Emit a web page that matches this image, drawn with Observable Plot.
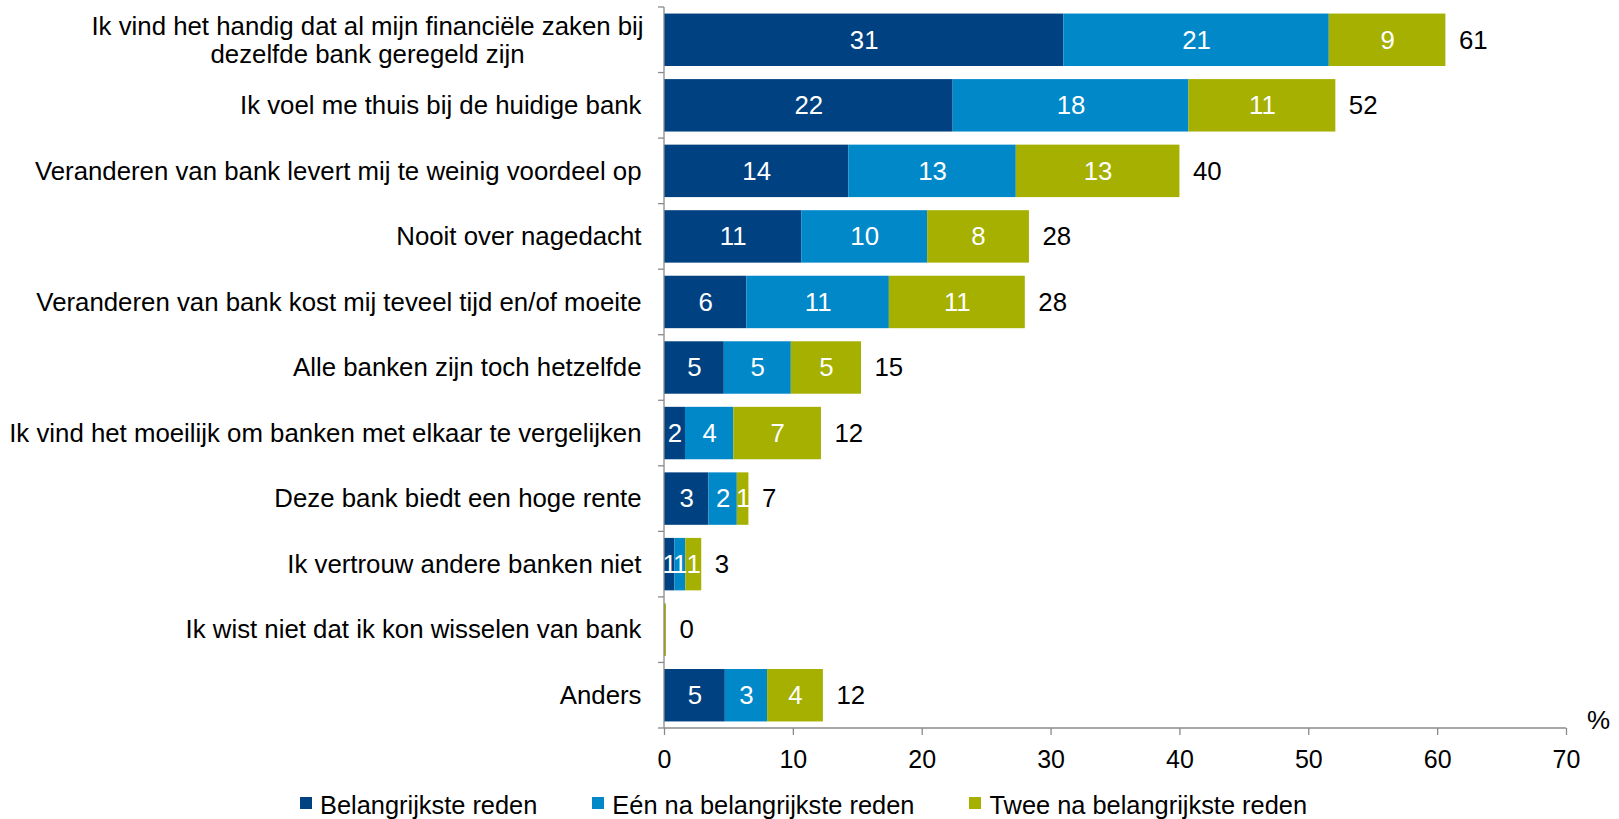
<!DOCTYPE html>
<html>
<head>
<meta charset="utf-8">
<script src="https://cdn.jsdelivr.net/npm/d3@7"></script>
<script src="https://cdn.jsdelivr.net/npm/@observablehq/plot@0.6"></script>
<style>
  html, body { margin: 0; padding: 0; background: #fff; }
  body { width: 1619px; height: 819px; position: relative; overflow: hidden; font-family: "Liberation Sans", Arial, sans-serif; }
  #legend { position: absolute; left: 300px; top: 790px; display: flex; align-items: flex-start; font-size: 25.4px; color: #000; line-height: 30px; }
  #legend .item { display: flex; align-items: flex-start; margin-right: 55px; }
  #legend .sw { width: 12px; height: 12px; margin-top: 7px; margin-right: 8px; }
</style>
</head>
<body>
<div id="chart"></div>
<div id="legend"></div>
<script>
// ---- data ----
const categories = [
  "Ik vind het handig dat al mijn financiële zaken bij\ndezelfde bank geregeld zijn",
  "Ik voel me thuis bij de huidige bank",
  "Veranderen van bank levert mij te weinig voordeel op",
  "Nooit over nagedacht",
  "Veranderen van bank kost mij teveel tijd en/of moeite",
  "Alle banken zijn toch hetzelfde",
  "Ik vind het moeilijk om banken met elkaar te vergelijken",
  "Deze bank biedt een hoge rente",
  "Ik vertrouw andere banken niet",
  "Ik wist niet dat ik kon wisselen van bank",
  "Anders"
];
const seriesNames = ["Belangrijkste reden", "Eén na belangrijkste reden", "Twee na belangrijkste reden"];
const belangrijkste = [30.99, 22.4, 14.3, 10.65, 6.4, 4.64, 1.63, 3.45, 0.8, 0, 4.72];
const eenNa        = [20.6, 18.3, 13.0, 9.77, 11.05, 5.2, 3.75, 2.2, 0.85, 0, 3.28];
const tweeNa       = [9.05, 11.4, 12.7, 7.9, 10.55, 5.45, 6.8, 0.9, 1.24, 0.15, 4.33];
const xTicks = [0, 10, 20, 30, 40, 50, 60, 70];
const unitLabel = "%";

// ---- styles ----
const colors = ["#004181", "#0088c9", "#a5b000"];
const axisGray = "#8a8a8a";
const fontFamily = "'Liberation Sans', Arial, sans-serif";
const labelSize = 25.8;

// ---- table built from arrays ----
const seriesValues = [belangrijkste, eenNa, tweeNa];
const long = [];
seriesNames.forEach((s, si) => {
  categories.forEach((c, ci) => long.push({category: c, series: s, value: seriesValues[si][ci]}));
});
const totals = categories.map((c, ci) => ({category: c, total: belangrijkste[ci] + eenNa[ci] + tweeNa[ci]}));
const twoLine = categories.filter(c => c.includes("\n"));
const oneLine = categories.filter(c => !c.includes("\n"));

// custom axis frame: y axis line with ticks at band boundaries, x axis baseline
function axisFrame(index, scales, values, dimensions) {
  const y = scales.y, x = scales.x;
  const bw = y.bandwidth ? y.bandwidth() : scales.scales.y.bandwidth;
  const step = y.step ? y.step() : scales.scales.y.step;
  const gap = step - bw;
  const x0 = x(xTicks[0]);
  const x1 = x(xTicks[xTicks.length - 1]);
  const bottom = dimensions.height - dimensions.marginBottom;
  const top = y(categories[0]) - gap / 2;
  const g = d3.create("svg:g").attr("stroke", axisGray).attr("stroke-width", 1.3).attr("fill", "none");
  g.append("line").attr("x1", x0).attr("x2", x0).attr("y1", top).attr("y2", bottom);
  g.append("line").attr("x1", x0).attr("x2", x1).attr("y1", bottom).attr("y2", bottom);
  for (let i = 0; i <= categories.length; i++) {
    const yy = top + i * step;
    g.append("line").attr("x1", x0 - 6).attr("x2", x0).attr("y1", yy).attr("y2", yy);
  }
  return g.node();
}

const chart = Plot.plot({
  width: 1619,
  height: 780,
  marginLeft: 664,
  marginRight: 53,
  marginTop: 7,
  marginBottom: 52,
  style: {fontFamily, fontSize: "25px", color: "#000", background: "#fff"},
  x: {domain: [0, 70], axis: null},
  y: {domain: categories, paddingInner: 0.2, paddingOuter: 0.1, round: false, axis: null},
  color: {domain: seriesNames, range: colors},
  marks: [
    Plot.barX(long, {x: "value", y: "category", fill: "series", z: "series"}),
    axisFrame,
    Plot.axisX({ticks: xTicks, tickSize: 7, tickPadding: 15, fontSize: 25, stroke: axisGray, strokeWidth: 1.3, fill: "#000", label: null, tickFormat: d => String(d)}),
    Plot.text(long, Plot.stackX({
      x: "value", y: "category", z: "series",
      text: d => d.value >= 0.5 ? String(Math.round(d.value)) : null,
      fill: "white", fontSize: labelSize
    })),
    Plot.text(totals, {x: "total", y: "category", text: d => String(Math.round(d.total)), textAnchor: "start", dx: 13, fill: "#000", fontSize: labelSize}),
    Plot.text(oneLine, {x: () => 0, y: d => d, text: d => d, textAnchor: "end", dx: -23, fill: "#000", fontSize: labelSize}),
    Plot.text(twoLine, {x: () => 0, y: d => d, text: d => d, textAnchor: "middle", dx: -297, lineHeight: 1.08, fill: "#000", fontSize: labelSize}),
    Plot.text([unitLabel], {frameAnchor: "bottom-right", text: d => d, textAnchor: "middle", lineAnchor: "bottom", dx: 32, dy: 0, fill: "#000", fontSize: 26})
  ]
});
document.getElementById("chart").appendChild(chart);

// legend
const legend = d3.select("#legend");
seriesNames.forEach((s, i) => {
  const item = legend.append("div").attr("class", "item");
  item.append("div").attr("class", "sw").style("background", colors[i]);
  item.append("span").text(s);
});
</script>
</body>
</html>
